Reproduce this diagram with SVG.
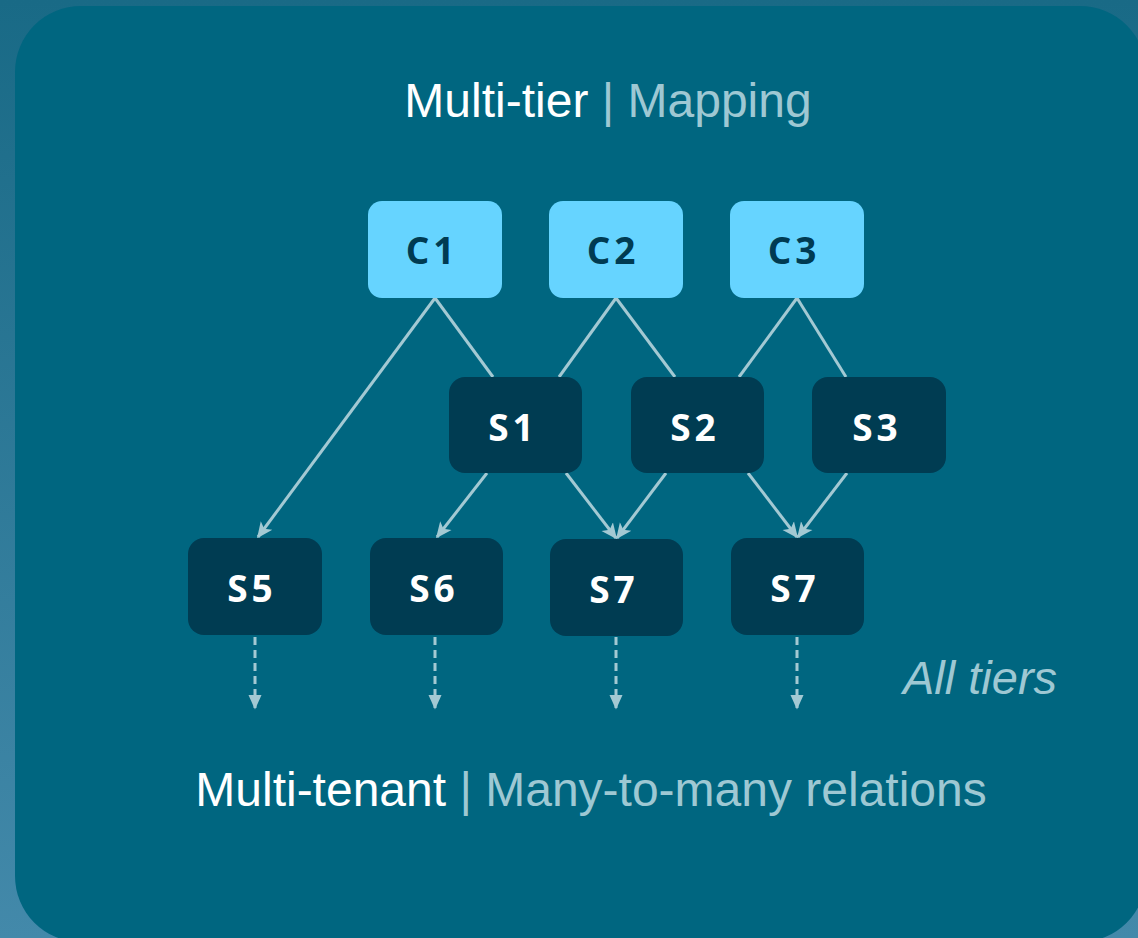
<svg xmlns="http://www.w3.org/2000/svg" width="1138" height="938" viewBox="0 0 1138 938">
<defs>
<linearGradient id="bg" x1="0" y1="0" x2="0" y2="1">
<stop offset="0" stop-color="#196a86"/>
<stop offset="1" stop-color="#4389aa"/>
</linearGradient>
<marker id="ah" viewBox="0 0 10 10" refX="9" refY="5" markerWidth="16" markerHeight="16" markerUnits="userSpaceOnUse" orient="auto">
<path d="M0,0.5 L10,5 L0,9.5 L2.5,5 z" fill="#a3c9d3"/>
</marker>
<marker id="ah2" viewBox="0 0 10 10" refX="9" refY="5" markerWidth="15" markerHeight="15" markerUnits="userSpaceOnUse" orient="auto">
<path d="M0,0.5 L10,5 L0,9.5 z" fill="#a3c9d3"/>
</marker>
</defs>
<style>
.c rect{fill:#66d4ff}
.c text{fill:#003b52;font-family:"Open Sans","DejaVu Sans",sans-serif;font-weight:bold;font-size:37px;text-anchor:middle;letter-spacing:4px}
.s rect{fill:#003c52}
.s text{fill:#ffffff;font-family:"Open Sans","DejaVu Sans",sans-serif;font-weight:bold;font-size:37px;text-anchor:middle;letter-spacing:4px}
.ln{stroke:#a3c9d3;stroke-width:3;fill:none}
.dash{stroke:#a3c9d3;stroke-width:3;fill:none;stroke-dasharray:8 5}
.ttl{font-family:"Liberation Sans",Arial,sans-serif;font-size:48px;text-anchor:middle}
.w{fill:#ffffff}
.g{fill:#9ec8d3}
</style>
<rect x="0" y="0" width="1138" height="938" fill="url(#bg)"/>
<rect x="15" y="6" width="1131" height="936" rx="66" fill="#006680"/>

<text class="ttl" x="608" y="117"><tspan class="w">Multi-tier</tspan><tspan class="g"> | Mapping</tspan></text>

<g id="connectors">
<line class="ln" x1="435" y1="298" x2="493" y2="377"/>
<line class="ln" x1="435" y1="298" x2="258" y2="537" marker-end="url(#ah)"/>
<line class="ln" x1="616" y1="298" x2="559" y2="377"/>
<line class="ln" x1="616" y1="298" x2="675" y2="377"/>
<line class="ln" x1="797" y1="298" x2="739" y2="377"/>
<line class="ln" x1="797" y1="298" x2="846" y2="377"/>
<line class="ln" x1="487" y1="473" x2="437" y2="537" marker-end="url(#ah)"/>
<line class="ln" x1="566" y1="473" x2="616" y2="538" marker-end="url(#ah)"/>
<line class="ln" x1="666" y1="473" x2="617" y2="538" marker-end="url(#ah)"/>
<line class="ln" x1="748" y1="473" x2="797" y2="537" marker-end="url(#ah)"/>
<line class="ln" x1="847" y1="473" x2="798" y2="537" marker-end="url(#ah)"/>
<line class="dash" x1="255" y1="637" x2="255" y2="708" marker-end="url(#ah2)"/>
<line class="dash" x1="435" y1="637" x2="435" y2="708" marker-end="url(#ah2)"/>
<line class="dash" x1="616" y1="637" x2="616" y2="708" marker-end="url(#ah2)"/>
<line class="dash" x1="797" y1="637" x2="797" y2="708" marker-end="url(#ah2)"/>
</g>

<g id="C1" class="c"><rect x="368" y="201" width="134" height="97" rx="14"/><text x="432" y="264">C1</text></g>
<g id="C2" class="c"><rect x="549" y="201" width="134" height="97" rx="14"/><text x="613" y="264">C2</text></g>
<g id="C3" class="c"><rect x="730" y="201" width="134" height="97" rx="14"/><text x="794" y="264">C3</text></g>

<g id="S1" class="s"><rect x="449" y="377" width="133" height="96" rx="16"/><text x="513" y="441">S1</text></g>
<g id="S2" class="s"><rect x="631" y="377" width="133" height="96" rx="16"/><text x="695" y="441">S2</text></g>
<g id="S3" class="s"><rect x="812" y="377" width="134" height="96" rx="16"/><text x="877" y="441">S3</text></g>

<g id="S5" class="s"><rect x="188" y="538" width="134" height="97" rx="16"/><text x="252" y="602">S5</text></g>
<g id="S6" class="s"><rect x="370" y="538" width="133" height="97" rx="16"/><text x="434" y="602">S6</text></g>
<g id="S7a" class="s"><rect x="550" y="539" width="133" height="97" rx="16"/><text x="614" y="603">S7</text></g>
<g id="S7b" class="s"><rect x="731" y="538" width="133" height="97" rx="16"/><text x="795" y="602">S7</text></g>

<text x="980" y="694" font-family="Liberation Sans,Arial,sans-serif" font-style="italic" font-size="47" fill="#9ec8d3" text-anchor="middle">All tiers</text>

<text class="ttl" x="591" y="806"><tspan class="w">Multi-tenant</tspan><tspan class="g"> | Many-to-many relations</tspan></text>
</svg>
